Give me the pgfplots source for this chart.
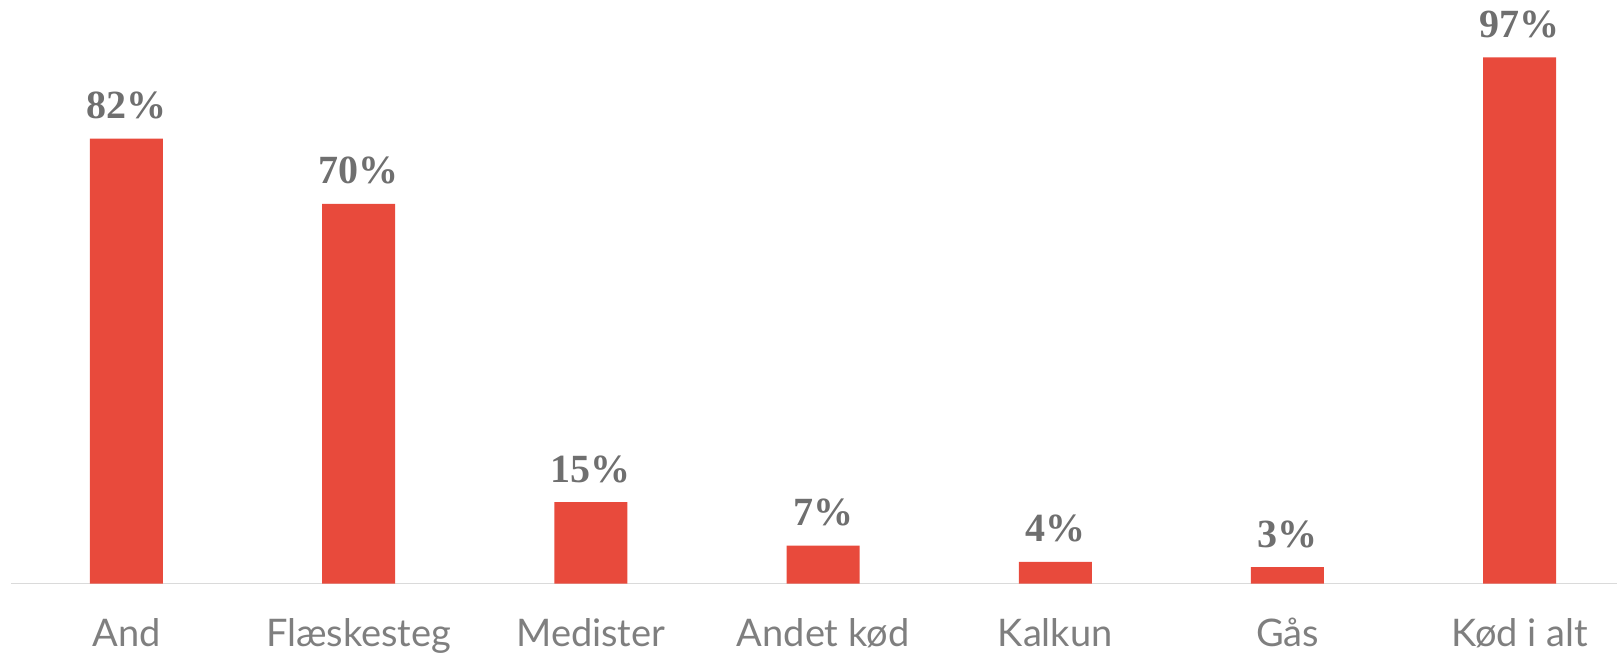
\documentclass[border=0pt]{standalone}
\usepackage{pgfplots}
\pgfplotsset{compat=1.18}
\usepackage{fontspec}
\setmainfont{Lato}
\newfontfamily\labfont{Liberation Serif}
\definecolor{barred}{HTML}{E84A3C}
\definecolor{labgray}{HTML}{6F6F6F}
\definecolor{tickgray}{HTML}{7F7F7F}
\definecolor{axgray}{HTML}{DADADA}
\begin{document}
\begin{tikzpicture}
\begin{axis}[
  name=ax,
  scale only axis,
  width=803pt, height=291.75pt,
  xmin=-0.497, xmax=6.419,
  ymin=0, ymax=107.56,
  axis x line*=bottom,
  axis y line=none,
  x axis line style={draw=axgray, line width=0.75pt, -},
  major tick length=0pt,
  /pgf/number format/assume math mode=true,
  xtick=data,
  xticklabels={And, Flæskesteg, Medister, Andet kød, Kalkun, Gås, Kød i alt},
  xticklabel style={anchor=base, yshift=-31.5pt, font=\fontsize{19}{22}\selectfont, text=tickgray},
  ybar, bar width=36.5pt,
  clip=false,
  nodes near coords={\pgfmathprintnumber{\pgfplotspointmeta}\%},
  nodes near coords style={anchor=base, yshift=10pt, font=\labfont\bfseries\fontsize{20}{24}\selectfont, text=labgray},
]
\addplot[fill=barred, draw=none] coordinates {(0,82) (1,70) (2,15) (3,7) (4,4) (5,3) (6,97)};
\end{axis}
\pgfresetboundingbox
\path[use as bounding box] ([xshift=-5.5pt, yshift=-35.25pt]ax.south west) rectangle (ax.north east);
\end{tikzpicture}
\end{document}
